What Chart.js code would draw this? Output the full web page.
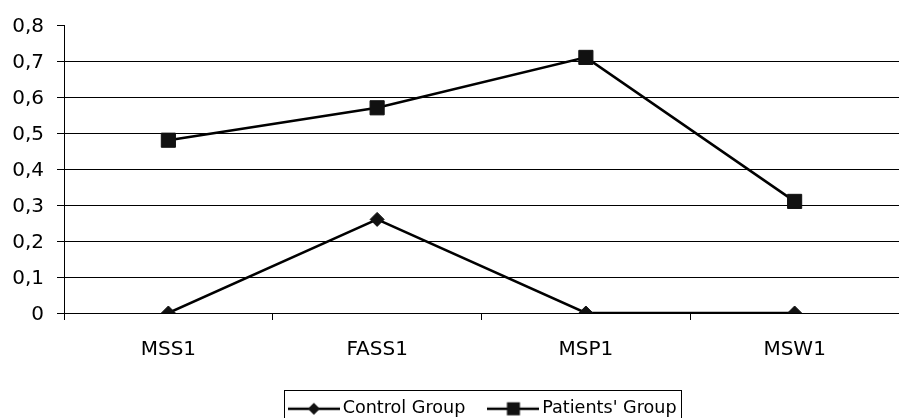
<!DOCTYPE html>
<html>
<head>
<meta charset="utf-8">
<script src="https://cdn.jsdelivr.net/npm/chart.js@4"></script>
<style>
  html, body { margin: 0; padding: 0; background: #fff; overflow: hidden; }
  #wrap { position: absolute; left: 0; top: 0; width: 910px; height: 430px; }
</style>
</head>
<body>
<div id="wrap"><canvas id="chart"></canvas></div>
<script>
const categories = ['MSS1', 'FASS1', 'MSP1', 'MSW1'];
const controlGroup = [0, 0.26, 0, 0];
const patientsGroup = [0.48, 0.57, 0.71, 0.31];
const yTicks = [0, 0.1, 0.2, 0.3, 0.4, 0.5, 0.6, 0.7, 0.8];

const FONT = 'DejaVu Sans';

// legend sample: a line with the marker in the middle
function legendIcon(style) {
    const c = document.createElement('canvas');
    c.width = 52;
    c.height = 16;
    const g = c.getContext('2d');
    g.strokeStyle = '#000';
    g.lineWidth = 2.5;
    g.beginPath();
    g.moveTo(0, 8);
    g.lineTo(52, 8);
    g.stroke();
    g.fillStyle = '#111';
    if (style === 'diamond') {
        g.beginPath();
        g.moveTo(20, 8);
        g.lineTo(26, 2);
        g.lineTo(32, 8);
        g.lineTo(26, 14);
        g.closePath();
        g.fill();
    } else {
        g.fillRect(19.5, 1.5, 13, 13);
    }
    return c;
}
const icons = [legendIcon('diamond'), legendIcon('square')];

const legendBox = {
    id: 'legendBox',
    afterLayout(chart) {
        // the legend in the reference sits a little right of the canvas centre
        chart.legend.left = 62;
    },
    afterDraw(chart) {
        const hb = chart.legend.legendHitBoxes;
        if (!hb || !hb.length) return;
        const last = hb[hb.length - 1];
        const left = Math.round(hb[0].left - 10) + 0.5;
        const right = Math.round(last.left + last.width + 4) + 0.5;
        const ctx = chart.ctx;
        ctx.save();
        ctx.strokeStyle = '#000';
        ctx.lineWidth = 1;
        ctx.strokeRect(left, 390.5, right - left, 40);
        ctx.restore();
    }
};

const ctx = document.getElementById('chart').getContext('2d');
const myChart = new Chart(ctx, {
    type: 'line',
    data: {
        labels: categories,
        datasets: [{
            label: 'Control Group',
            data: controlGroup,
            borderColor: '#000',
            borderWidth: 2.5,
            pointStyle: 'rectRot',
            pointRadius: 7,
            pointBackgroundColor: '#111',
            pointBorderColor: '#111',
            pointBorderWidth: 1,
            tension: 0,
            fill: false
        }, {
            label: "Patients' Group",
            data: patientsGroup,
            borderColor: '#000',
            borderWidth: 2.5,
            pointStyle: 'rect',
            pointRadius: 10,
            pointBackgroundColor: '#111',
            pointBorderColor: '#111',
            pointBorderWidth: 1,
            tension: 0,
            fill: false
        }]
    },
    options: {
        responsive: true,
        maintainAspectRatio: false,
        animation: false,
        layout: { padding: { left: 0, right: 1.5, top: 24, bottom: 2.4 } },
        plugins: {
            tooltip: { enabled: false },
            legend: {
                position: 'bottom',
                labels: {
                    usePointStyle: true,
                    pointStyleWidth: 40,
                    padding: 28,
                    color: '#000',
                    font: { family: FONT, size: 17.6 },
                    generateLabels(chart) {
                        const items = Chart.defaults.plugins.legend.labels.generateLabels(chart);
                        items.forEach((it, i) => { it.pointStyle = icons[i]; });
                        return items;
                    }
                }
            }
        },
        scales: {
            x: {
                offset: true,
                border: { color: '#000', width: 1 },
                grid: {
                    offset: true,
                    drawOnChartArea: false,
                    drawTicks: true,
                    tickLength: 7,
                    color: '#000'
                },
                ticks: {
                    color: '#000',
                    padding: 18,
                    maxRotation: 0,
                    font: { family: FONT, size: 20 }
                },
                afterFit(scale) { scale.height = 59; }
            },
            y: {
                min: 0,
                max: 0.8,
                afterBuildTicks(scale) { scale.ticks = yTicks.map(v => ({ value: v })); },
                border: { color: '#000', width: 1 },
                grid: {
                    color: c => (c.tick && c.tick.value >= 0.79 ? 'rgba(0,0,0,0)' : '#000'),
                    tickColor: '#000',
                    tickLength: 7,
                    lineWidth: 1
                },
                ticks: {
                    color: '#000',
                    padding: 13,
                    labelOffset: 2,
                    font: { family: FONT, size: 20 },
                    callback: v => (v === 0 ? '0' : v.toFixed(1).replace('.', ','))
                },
                afterFit(scale) { scale.width = 64; }
            }
        }
    },
    plugins: [legendBox]
});
</script>
</body>
</html>
